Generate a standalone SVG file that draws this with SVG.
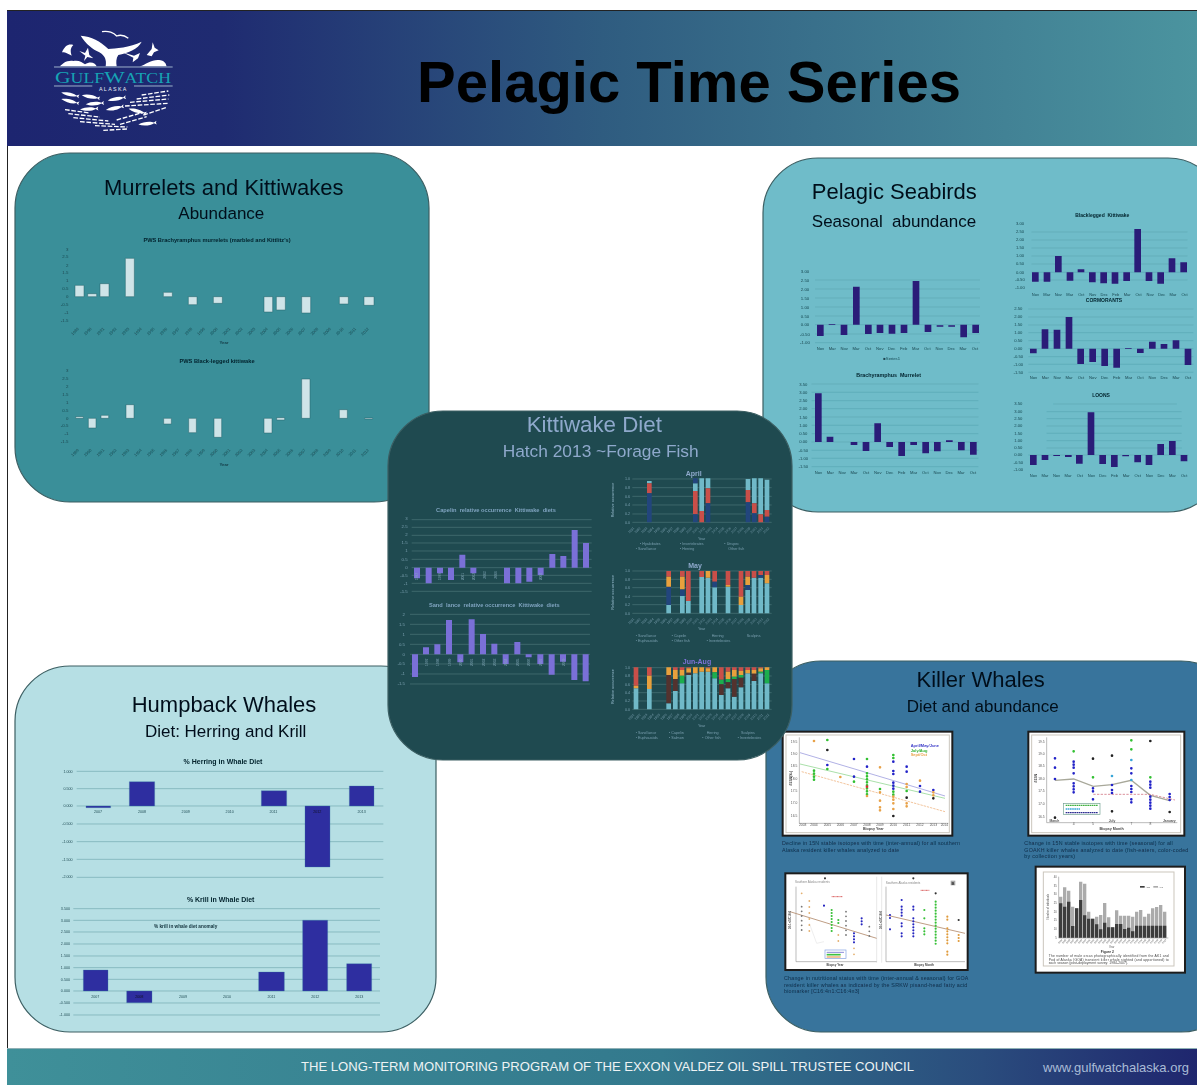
<svg xmlns="http://www.w3.org/2000/svg" xmlns:xlink="http://www.w3.org/1999/xlink" width="1197" height="1085" viewBox="0 0 1197 1085">
<style>
text{font-family:"Liberation Sans",Arial,sans-serif}
.m{text-anchor:middle}
.e{text-anchor:end}
.b{font-weight:bold}
.h{font-size:66px;fill:#04101a}
.h2{font-size:51px;fill:#04101a}
.panel{stroke:#3c5f63;stroke-width:1.2}
.sm{font-size:13px;fill:#14343c;fill-opacity:.8}
.sm2{font-size:13px;fill:#10303a;fill-opacity:.85}
.tt{font-size:17px;font-weight:bold;fill:#07222c}
.grid{fill:none;stroke:#2f7f88;stroke-opacity:.4;stroke-width:1.6}
.gridl{fill:none;stroke:#4a8a90;stroke-opacity:.8;stroke-width:1.6}
.gridk{fill:none;stroke:#6f9a98;stroke-opacity:.7;stroke-width:1.6}
.navy{fill:#2c1a78}
.blue{fill:#2d2da0;stroke:#3a7fa8;stroke-width:1}
.pale{fill:#cfe4e8;stroke:#245f68;stroke-width:1.5}
.viol{fill:#7a70d8}
.ks{font-size:13px;fill:#89aebf;fill-opacity:.85}
.kt{font-size:17px;font-weight:bold;fill:#7fa3bf}
.fw{fill:#fff;stroke:#1c1c1c;stroke-width:6}
.in{fill:#fff;stroke:#cbc6bd;stroke-width:3}
.dot{fill:none;stroke-linecap:round;stroke-width:8;stroke-dasharray:.01 9}
.cap{font-size:16px;fill:#0f2c48}
.tn{font-size:10px;fill:#555}
.ax{fill:none;stroke:#777;stroke-width:1.5}
.fx{font-size:11px;font-weight:bold;fill:#444}
</style>
<defs>
<linearGradient id="hd" x1="0" x2="1" y1="0" y2="0"><stop offset="0" stop-color="#1d2570"/><stop offset=".18" stop-color="#1f2b71"/><stop offset=".5" stop-color="#2f5c80"/><stop offset="1" stop-color="#4b949f"/></linearGradient>
<linearGradient id="ft" x1="0" x2="1" y1="0" y2="0"><stop offset="0" stop-color="#3f9099"/><stop offset=".55" stop-color="#33798d"/><stop offset=".82" stop-color="#2a4c7d"/><stop offset="1" stop-color="#1f266e"/></linearGradient>
<filter id="soft" x="-5%" y="-5%" width="110%" height="110%"><feGaussianBlur stdDeviation="1.3"/></filter>
<path id="fish" d="M-25 0C-10-7 12-7 22-1L30-6 28 0 30 6 22 1C12 7-10 7-25 0z" fill="#fff"/>
<g id="myr" class="sm" style="font-size:12px">
<text class="m" transform="translate(228 0)rotate(-45)">1989</text><text class="m" transform="translate(266 0)rotate(-45)">1990</text><text class="m" transform="translate(304 0)rotate(-45)">1991</text><text class="m" transform="translate(341 0)rotate(-45)">1992</text><text class="m" transform="translate(379 0)rotate(-45)">1993</text><text class="m" transform="translate(417 0)rotate(-45)">1994</text><text class="m" transform="translate(455 0)rotate(-45)">1995</text><text class="m" transform="translate(493 0)rotate(-45)">1996</text><text class="m" transform="translate(530 0)rotate(-45)">1997</text><text class="m" transform="translate(568 0)rotate(-45)">1998</text><text class="m" transform="translate(606 0)rotate(-45)">1999</text><text class="m" transform="translate(644 0)rotate(-45)">2000</text><text class="m" transform="translate(682 0)rotate(-45)">2001</text><text class="m" transform="translate(719 0)rotate(-45)">2002</text><text class="m" transform="translate(757 0)rotate(-45)">2003</text><text class="m" transform="translate(795 0)rotate(-45)">2004</text><text class="m" transform="translate(833 0)rotate(-45)">2005</text><text class="m" transform="translate(871 0)rotate(-45)">2006</text><text class="m" transform="translate(908 0)rotate(-45)">2007</text><text class="m" transform="translate(946 0)rotate(-45)">2008</text><text class="m" transform="translate(984 0)rotate(-45)">2009</text><text class="m" transform="translate(1022 0)rotate(-45)">2010</text><text class="m" transform="translate(1060 0)rotate(-45)">2011</text><text class="m" transform="translate(1098 0)rotate(-45)">2012</text>
</g>
<g id="mon" class="sm2" style="font-size:12.5px">
<text class="m" x="0">Nov</text><text class="m" x="35.7">Mar</text><text class="m" x="71.4">Nov</text><text class="m" x="107">Mar</text><text class="m" x="143">Oct</text><text class="m" x="178.5">Nov</text><text class="m" x="214">Dec</text><text class="m" x="250">Feb</text><text class="m" x="285.6">Mar</text><text class="m" x="321">Oct</text><text class="m" x="357">Nov</text><text class="m" x="393">Dec</text><text class="m" x="428">Mar</text><text class="m" x="464">Oct</text>
</g>
<g id="syr" style="font-size:10px;fill:#89aebf;fill-opacity:.8">
<text class="m" transform="translate(741 0)rotate(-45)">1991</text><text class="m" transform="translate(760 0)rotate(-45)">1992</text><text class="m" transform="translate(780 0)rotate(-45)">1993</text><text class="m" transform="translate(799 0)rotate(-45)">1994</text><text class="m" transform="translate(818 0)rotate(-45)">1995</text><text class="m" transform="translate(838 0)rotate(-45)">1996</text><text class="m" transform="translate(857 0)rotate(-45)">1997</text><text class="m" transform="translate(876 0)rotate(-45)">1998</text><text class="m" transform="translate(895 0)rotate(-45)">1999</text><text class="m" transform="translate(915 0)rotate(-45)">2000</text><text class="m" transform="translate(934 0)rotate(-45)">2001</text><text class="m" transform="translate(953 0)rotate(-45)">2002</text><text class="m" transform="translate(973 0)rotate(-45)">2003</text><text class="m" transform="translate(992 0)rotate(-45)">2004</text><text class="m" transform="translate(1011 0)rotate(-45)">2005</text><text class="m" transform="translate(1031 0)rotate(-45)">2006</text><text class="m" transform="translate(1050 0)rotate(-45)">2007</text><text class="m" transform="translate(1069 0)rotate(-45)">2008</text><text class="m" transform="translate(1089 0)rotate(-45)">2009</text><text class="m" transform="translate(1108 0)rotate(-45)">2010</text><text class="m" transform="translate(1127 0)rotate(-45)">2011</text><text class="m" transform="translate(1146 0)rotate(-45)">2012</text>
</g>
</defs>

<rect width="1197" height="1085" fill="#fff"/>
<path d="M7.5 10V1048" stroke="#222" stroke-width="1" fill="none"/>

<g id="header">
<rect x="7" y="10" width="1190" height="136" fill="url(#hd)"/>
<path d="M7 10.500H1197" stroke="#222" stroke-width="1"/>
<text class="m b" x="689" y="102" font-size="58" fill="#000">Pelagic Time Series</text>
</g>

<g id="logo" transform="translate(40 25)scale(.33333)">
<path fill="#fff" d="M122 32C155 34 180 48 205 72 225 70 270 68 305 50 295 72 262 84 235 90 228 100 228 112 230 124H197C200 105 195 92 178 82 158 72 138 58 122 32z"/>
<path fill="#fff" d="M60 124C68 116 80 105 100 108 115 104 128 112 135 118 150 108 165 112 170 124zM300 124C318 118 340 100 362 106 378 110 378 120 380 124z"/>
<path fill="#fff" d="M66 82C75 62 85 56 100 60 92 68 90 76 95 92 85 88 80 82 66 82zM118 78 135 84 144 68 148 90 160 100 142 96 132 108 136 92z"/>
<path fill="#fff" d="M248 82 282 92 300 84 294 100 278 112 280 98zM320 90 335 72 338 52 344 68 356 76 342 82 335 94z"/>
<path fill="none" stroke="#fff" stroke-width="4" d="M186 20C205 16 222 24 230 33 243 28 255 32 265 40"/>
<path stroke="#b8cfe0" stroke-width="2.500" fill="none" d="M42 126H398M42 183H157M282 183H398"/>
<text class="m" x="219" y="175" font-size="50" fill="#16a3b4" style="font-family:'Liberation Serif',serif" textLength="348" lengthAdjust="spacingAndGlyphs">G<tspan font-size="41">ULF</tspan>W<tspan font-size="41">ATCH</tspan></text>
<text class="m" x="220" y="197" font-size="16" fill="#e8eef4" letter-spacing="4">ALASKA</text>
<use xlink:href="#fish" href="#fish" transform="translate(88 208)rotate(12)"/>
<use xlink:href="#fish" href="#fish" transform="translate(88 228)rotate(14)"/>
<use xlink:href="#fish" href="#fish" transform="translate(150 215)rotate(10)"/>
<use xlink:href="#fish" href="#fish" transform="translate(162 236)rotate(-4)"/>
<use xlink:href="#fish" href="#fish" transform="translate(228 222)rotate(-10)"/>
<use xlink:href="#fish" href="#fish" transform="translate(145 252)rotate(-3)"/>
<use xlink:href="#fish" href="#fish" transform="translate(222 250)rotate(-12)"/>
<use xlink:href="#fish" href="#fish" transform="translate(320 296)rotate(-6)"/>
<use xlink:href="#fish" href="#fish" transform="translate(290 258)rotate(15)"/>
<path stroke="#fff" stroke-width="4" fill="none" stroke-dasharray="14 5" d="M305 210 385 198M290 222 388 210M270 232 385 222M255 243 385 235M310 270 378 248M75 254 150 264M85 266 180 276M100 278 205 288M120 290 225 298M165 302 262 306M190 316 262 312M230 285 310 262M240 298 320 275"/>
</g>

<g id="murrelets">
<rect class="panel" x="15" y="153" width="414" height="349" rx="55" fill="#3a8f99"/>
<g transform="scale(.33333)" filter="url(#soft)">
<text class="m h" x="671" y="585">Murrelets and Kittiwakes</text>
<text class="m h2" x="664" y="657">Abundance</text>
<text class="m tt" x="651" y="725">PWS Brachyramphus murrelets (marbled and Kittlitz's)</text>
<g class="sm"><text class="e" x="205" y="752">3</text><text class="e" x="205" y="775">2.5</text><text class="e" x="205" y="800">2</text><text class="e" x="205" y="823">1.5</text><text class="e" x="205" y="847">1</text><text class="e" x="205" y="871">0.5</text><text class="e" x="205" y="895">0</text><text class="e" x="205" y="919">-0.5</text><text class="e" x="205" y="943">-1</text><text class="e" x="205" y="966">-1.5</text></g>
<path class="pale" d="M225 856h27V890h-27zM263 881h27V890h-27zM300 851h27V890h-27zM376 775h27V890h-27zM490 877h27V890h-27zM565 890h26V914h-26zM640 890h27V910h-27zM792 890h26V936h-26zM829 890h27V930h-27zM905 890h27V939h-27zM1018 890h27V912h-27zM1092 890h30V916h-30z"/>
<use xlink:href="#myr" href="#myr" y="997"/>
<text class="m b sm2" x="672" y="1033" style="font-size:13px">Year</text>
<text class="m tt" x="651" y="1089">PWS Black-legged kittiwake</text>
<g class="sm"><text class="e" x="205" y="1117">3</text><text class="e" x="205" y="1141">2.5</text><text class="e" x="205" y="1165">2</text><text class="e" x="205" y="1188">1.5</text><text class="e" x="205" y="1212">1</text><text class="e" x="205" y="1236">0.5</text><text class="e" x="205" y="1260">0</text><text class="e" x="205" y="1282">-0.5</text><text class="e" x="205" y="1306">-1</text><text class="e" x="205" y="1329">-1.5</text></g>
<path class="pale" d="M227 1250h23V1255h-23zM265 1255h23V1284h-23zM303 1246h23V1255h-23zM378 1214h24V1255h-24zM491 1255h23V1272h-23zM566 1255h23V1298h-23zM642 1255h23V1312h-23zM792 1255h24V1299h-24zM830 1253h24V1260h-24zM905 1137h25V1255h-25zM1018 1229h24V1255h-24zM1094 1254h24V1257h-24z"/>
<use xlink:href="#myr" href="#myr" y="1361"/>
<text class="m b sm2" x="672" y="1397" style="font-size:13px">Year</text>
</g>
</g>

<g id="seabirds">
<rect class="panel" x="763" y="158" width="460" height="354" rx="55" fill="#6fbcc9"/>
<g transform="translate(760 150)scale(.33333)" filter="url(#soft)">
<text class="m h" x="403" y="148">Pelagic Seabirds</text>
<text class="m h2" x="402" y="231" xml:space="preserve">Seasonal  abundance</text>
<g class="sm2" style="font-size:13px"><text class="m" x="135" y="368">3.00</text><text class="m" x="135" y="395">2.50</text><text class="m" x="135" y="422">2.00</text><text class="m" x="135" y="449">1.50</text><text class="m" x="135" y="476">1.00</text><text class="m" x="135" y="503">0.50</text><text class="m" x="135" y="529">0.00</text><text class="m" x="135" y="557">-0.50</text><text class="m" x="135" y="583">-1.00</text></g>
<path class="grid" d="M165 390H660M165 417H660M165 444H660M165 471H660M165 498H660M165 524H660M165 552H660M165 578H660"/>
<path class="navy" d="M171 524h20V558h-20zM206 523h20V525h-20zM242 524h20V555h-20zM279 410h20V524h-20zM315 524h20V552h-20zM350 524h20V549h-20zM386 524h20V551h-20zM422 524h20V549h-20zM458 393h20V524h-20zM494 524h20V546h-20zM530 526h20V530h-20zM565 526h20V530h-20zM601 524h20V562h-20zM637 524h20V549h-20z"/>
<use xlink:href="#mon" href="#mon" transform="translate(181 601)"/>
<text class="m sm2" x="395" y="630" style="font-size:12.500px">■Series1</text>

<text class="m tt" x="386" y="682" style="font-size:16px" xml:space="preserve">Brachyramphus  Murrelet</text>
<g class="sm2" style="font-size:12.500px"><text class="m" x="130" y="707">3.50</text><text class="m" x="130" y="731">3.00</text><text class="m" x="130" y="756">2.50</text><text class="m" x="130" y="781">2.00</text><text class="m" x="130" y="806">1.50</text><text class="m" x="130" y="831">1.00</text><text class="m" x="130" y="855">0.50</text><text class="m" x="130" y="880">0.00</text><text class="m" x="130" y="905">-0.50</text><text class="m" x="130" y="930">-1.00</text><text class="m" x="130" y="954">-1.50</text></g>
<path class="grid" d="M155 702H655M155 727H655M155 752H655M155 776H655M155 801H655M155 826H655M155 851H655M155 876H655M155 901H655M155 925H655M155 950H655"/>
<path class="navy" d="M165 730h20V876h-20zM200 860h20V876h-20zM272 876h20V885h-20zM308 876h20V903h-20zM343 820h20V876h-20zM379 876h20V891h-20zM415 876h20V918h-20zM451 876h20V885h-20zM487 876h20V910h-20zM522 876h20V904h-20zM558 871h20V876h-20zM594 876h20V901h-20zM630 876h20V914h-20z"/>
<use xlink:href="#mon" href="#mon" transform="translate(175 973)"/>

<text class="m tt" x="1027" y="202" style="font-size:15px" xml:space="preserve">Blacklegged  Kittiwake</text>
<g class="sm2" style="font-size:12.500px"><text class="m" x="780" y="226">3.00</text><text class="m" x="780" y="250">2.50</text><text class="m" x="780" y="274">2.00</text><text class="m" x="780" y="298">1.50</text><text class="m" x="780" y="322">1.00</text><text class="m" x="780" y="346">0.50</text><text class="m" x="780" y="371">0.00</text><text class="m" x="780" y="394">-0.50</text><text class="m" x="780" y="418">-1.00</text></g>
<path class="grid" d="M815 246H1282M815 270H1282M815 294H1282M815 318H1282M815 342H1282M815 367H1282M815 390H1282"/>
<path class="navy" d="M816 367h20V395h-20zM851 367h20V395h-20zM885 318h20V367h-20zM920 367h20V392h-20zM953 358h20V367h-20zM987 367h20V397h-20zM1021 367h20V400h-20zM1055 367h20V401h-20zM1090 367h20V393h-20zM1123 237h20V367h-20zM1157 367h20V393h-20zM1192 367h20V401h-20zM1226 325h20V367h-20zM1261 337h20V367h-20z"/>
<use xlink:href="#mon" href="#mon" transform="translate(826 437)scale(.965 1)"/>

<text class="m tt" x="1032" y="456" style="font-size:15px">CORMORANTS</text>
<g class="sm2" style="font-size:12.500px"><text class="m" x="775" y="481">2.50</text><text class="m" x="775" y="505">2.00</text><text class="m" x="775" y="529">1.50</text><text class="m" x="775" y="552">1.00</text><text class="m" x="775" y="576">0.50</text><text class="m" x="775" y="600">0.00</text><text class="m" x="775" y="624">-0.50</text><text class="m" x="775" y="647">-1.00</text><text class="m" x="775" y="671">-1.50</text></g>
<path class="grid" d="M805 477H1300M805 501H1300M805 525H1300M805 548H1300M805 572H1300M805 596H1300M805 620H1300M805 643H1300M805 667H1300"/>
<path class="navy" d="M810 596h20V610h-20zM845 538h20V596h-20zM881 539h20V596h-20zM917 501h20V596h-20zM952 596h20V642h-20zM988 596h20V636h-20zM1024 596h20V648h-20zM1060 596h20V653h-20zM1095 595h20V597h-20zM1131 596h20V609h-20zM1167 575h20V596h-20zM1202 582h20V596h-20zM1238 571h20V596h-20zM1274 596h20V645h-20z"/>
<use xlink:href="#mon" href="#mon" transform="translate(820 686)"/>

<text class="m tt" x="1023" y="741" style="font-size:15px">LOONS</text>
<g class="sm2" style="font-size:12.500px"><text class="m" x="775" y="766">3.50</text><text class="m" x="775" y="789">3.00</text><text class="m" x="775" y="810">2.50</text><text class="m" x="775" y="832">2.00</text><text class="m" x="775" y="854">1.50</text><text class="m" x="775" y="876">1.00</text><text class="m" x="775" y="897">0.50</text><text class="m" x="775" y="919">0.00</text><text class="m" x="775" y="941">-0.50</text><text class="m" x="775" y="962">-1.00</text></g>
<path class="grid" d="M880 762H1250M860 785H1265M860 806H1265M860 828H1265M860 850H1265M860 872H1265M860 894H1265M805 915H1285"/>
<path class="navy" d="M810 915h20V945h-20zM845 915h20V930h-20zM880 915h20V918h-20zM915 915h20V921h-20zM948 915h20V941h-20zM983 787h20V915h-20zM1018 915h20V942h-20zM1053 915h20V951h-20zM1087 915h20V919h-20zM1123 915h20V937h-20zM1157 915h20V945h-20zM1192 882h20V915h-20zM1227 873h20V915h-20zM1262 915h20V934h-20z"/>
<use xlink:href="#mon" href="#mon" transform="translate(820 981)scale(.975 1)"/>
</g>
</g>

<g id="humpback">
<rect class="panel" x="15" y="666" width="421" height="366" rx="55" fill="#b6dfe4"/>
<g transform="translate(0 660)scale(.33333)" filter="url(#soft)">
<text class="m h" x="672" y="157">Humpback Whales</text>
<text class="m h2" x="677" y="232">Diet: Herring and Krill</text>
<text class="m tt" x="669" y="312" style="font-size:21px">% Herring in Whale Diet</text>
<g class="sm2" style="font-size:11px"><text class="e" x="218" y="338">1.000</text><text class="e" x="218" y="390">0.500</text><text class="e" x="218" y="442">0.000</text><text class="e" x="218" y="496">-0.500</text><text class="e" x="218" y="549">-1.000</text><text class="e" x="218" y="602">-1.500</text><text class="e" x="218" y="654">-2.000</text></g>
<path class="gridl" d="M230 334H1150M230 386H1150M230 438H1150M230 492H1150M230 545H1150M230 598H1150M230 652H1150"/>
<path class="blue" d="M258 438h74V443h-74zM388 365h76V438h-76zM784 392h76V438h-76zM915 438h75V621h-75zM1048 378h74V438h-74z"/>
<g class="sm2" style="font-size:11px"><text class="m" x="294" y="458">2007</text><text class="m" x="426" y="458">2008</text><text class="m" x="557" y="458">2009</text><text class="m" x="689" y="458">2010</text><text class="m" x="820" y="458">2011</text><text class="m" x="952" y="458" fill="#111">2012</text><text class="m" x="1085" y="458">2013</text></g>
<text class="m tt" x="662" y="726" style="font-size:21px">% Krill in Whale Diet</text>
<g class="sm2" style="font-size:11px"><text class="e" x="210" y="750">3.500</text><text class="e" x="210" y="785">3.000</text><text class="e" x="210" y="820">2.500</text><text class="e" x="210" y="856">2.000</text><text class="e" x="210" y="892">1.500</text><text class="e" x="210" y="927">1.000</text><text class="e" x="210" y="962">0.500</text><text class="e" x="210" y="997">0.000</text><text class="e" x="210" y="1033">-0.500</text><text class="e" x="210" y="1069">-1.000</text></g>
<path class="gridl" d="M220 746H1140M220 781H1140M220 816H1140M220 852H1140M220 888H1140M220 923H1140M220 958H1140M220 993H1140M220 1029H1140M220 1065H1140"/>
<text class="m b" x="557" y="805" font-size="14" fill="#10303a">% krill in whale diet anomaly</text>
<path class="blue" d="M250 930h74V993h-74zM380 993h76V1028h-76zM776 936h77V993h-77zM908 781h75V993h-75zM1040 911h75V993h-75z"/>
<g class="sm2" style="font-size:11px"><text class="m" x="286" y="1013">2007</text><text class="m" x="418" y="1013" fill="#111">2008</text><text class="m" x="549" y="1013">2009</text><text class="m" x="681" y="1013">2010</text><text class="m" x="814" y="1013">2011</text><text class="m" x="946" y="1013">2012</text><text class="m" x="1078" y="1013">2013</text></g>
</g>
</g>

<g id="killer-whales">
<rect class="panel" x="766" y="661" width="470" height="371" rx="55" fill="#38749c"/>
<g transform="translate(770 660)scale(.33333)" filter="url(#soft)">
<text class="m h" x="632" y="82">Killer Whales</text>
<text class="m h2" x="638" y="156">Diet and abundance</text>

<g id="fig-n-year">
<rect class="fw" x="38" y="215" width="509" height="312"/>
<rect class="in" x="48" y="225" width="490" height="293"/>
<path class="ax" d="M88 232V490H535"/>
<g class="tn"><text class="e" x="82" y="248">19.5</text><text class="e" x="82" y="285">19.0</text><text class="e" x="82" y="322">18.5</text><text class="e" x="82" y="359">18.0</text><text class="e" x="82" y="396">17.5</text><text class="e" x="82" y="433">17.0</text><text class="e" x="82" y="470">16.5</text></g>
<g class="tn"><text class="m" x="98" y="498">2003</text><text class="m" x="132" y="498">2004</text><text class="m" x="172" y="498">2005</text><text class="m" x="211" y="498">2006</text><text class="m" x="252" y="498">2007</text><text class="m" x="291" y="498">2008</text><text class="m" x="330" y="498">2009</text><text class="m" x="370" y="498">2010</text><text class="m" x="410" y="498">2011</text><text class="m" x="450" y="498">2012</text><text class="m" x="490" y="498">2013</text><text class="m" x="523" y="498">2014</text></g>
<text class="m fx" x="310" y="511">Biopsy Year</text>
<text class="m fx" transform="translate(66 355)rotate(-90)">δ15N(‰)</text>
<path d="M90 278 525 408" stroke="#8a8ad8" stroke-width="2" fill="none"/>
<path d="M90 312 525 415" stroke="#7ed07e" stroke-width="2" fill="none"/>
<path d="M95 335 525 455" stroke="#eca66a" stroke-width="2" fill="none" stroke-dasharray="7 3"/>
<path class="dot" stroke="#30c030" d="M132 332V364M291 340V405M370 395V408M172 327h.1M172 240h.1M330 387h.1M291 297h.1M252 365h.1M370 285V302M410 393h.1"/>
<path class="dot" stroke="#2424c8" d="M172 315h.1M252 297h.1M252 350h.1M291 320h.1M370 305V312M370 333V347M370 368V392M410 320h.1M410 335h.1M450 378V385M450 395h.1M490 390V397"/>
<path class="dot" stroke="#e8a24a" d="M132 243h.1M211 351h.1M330 322h.1M330 397h.1M330 422h.1M330 442V454M370 410V422M370 430h.1M370 447V454M410 372V386M410 430V446M450 362h.1M490 397V408M291 408h.1"/>
<path class="dot" stroke="#222" d="M172 270V276M370 468h.1M410 413h.1M490 415h.1"/>
<path class="dot" stroke="#d83030" d="M291 380V386"/>
<g font-size="12" font-weight="bold"><text x="422" y="262" fill="#3a3ac8">April/May/June</text><text x="422" y="275" fill="#30b030">July/Aug</text><text x="422" y="289" fill="#e8a24a">Sept/Oct</text></g>
</g>
<g class="cap"><text x="36" y="555" textLength="534">Decline in 15N stable isotopes with time (inter-annual) for all southern</text><text x="36" y="575" textLength="352">Alaska resident killer whales analyzed to date</text></g>

<g id="fig-n-month">
<rect class="fw" x="775" y="215" width="468" height="312"/>
<rect class="in" x="785" y="225" width="447" height="293"/>
<path class="ax" d="M830 232V488H1222"/>
<g class="tn"><text class="e" x="824" y="248">19.5</text><text class="e" x="824" y="285">19.0</text><text class="e" x="824" y="322">18.5</text><text class="e" x="824" y="360">18.0</text><text class="e" x="824" y="397">17.5</text><text class="e" x="824" y="436">17.0</text><text class="e" x="824" y="474">16.5</text></g>
<text class="m fx" transform="translate(800 355)rotate(-90)">δ15N</text>
<g class="tn"><text class="m" x="853" y="486" font-weight="bold">March</text><text class="m" x="911" y="496">4</text><text class="m" x="969" y="496">5</text><text class="m" x="1026" y="486" font-weight="bold">July</text><text class="m" x="1084" y="496">7</text><text class="m" x="1141" y="496">8</text><text class="m" x="1198" y="486" font-weight="bold">January</text></g>
<text class="m fx" x="1025" y="511">Biopsy Month</text>
<path d="M855 361 911 357 970 379 1026 374 1084 361 1141 406 1199 422" fill="none" stroke="#a8a89a" stroke-width="4"/>
<path d="M970 403H1140L1215 420" fill="none" stroke="#c85a6a" stroke-width="2" stroke-dasharray="7 4"/>
<path class="dot" stroke="#2424c8" d="M855 295h.1M855 323h.1M855 357h.1M911 305V325M911 340h.1M911 370V405M969 385V400M969 418h.1M1026 375h.1M1026 390V400M1084 325h.1M1084 340h.1M1084 378V405M1084 418V433M1141 365V390M1141 410V450M1199 402V425"/>
<path class="dot" stroke="#30c030" d="M911 274h.1M969 352h.1M1084 241h.1M1084 268h.1M1141 352h.1"/>
<path class="dot" stroke="#37a6d8" d="M1026 348h.1M1084 300h.1M1084 360h.1"/>
<path class="dot" stroke="#222" d="M855 473h.1M969 296h.1M1026 287h.1M1026 454h.1M1141 243h.1M1199 456h.1"/>
<rect x="880" y="430" width="110" height="34" fill="#fff" stroke="#6f9f8f" stroke-width="2"/>
<path d="M887 436H983" stroke="#40b040" stroke-width="4" stroke-dasharray="5 1.500"/><path d="M887 447H930" stroke="#38a8d8" stroke-width="4" stroke-dasharray="5 1.500"/><path d="M887 458H983" stroke="#2a2a90" stroke-width="4" stroke-dasharray="5 1.500"/>
</g>
<g class="cap"><text x="763" y="556" textLength="445">Change in 15N stable isotopes with time (seasonal) for all</text><text x="763" y="575" textLength="492">GOAKH killer whales analyzed to date (fish-eaters, color-coded</text><text x="763" y="595" textLength="152">by collection years)</text></g>

<g id="fig-fatty-acid">
<rect class="fw" x="46" y="640" width="547" height="290"/>
<path d="M320 650V908M335 650V908" stroke="#ddd" stroke-width="2"/>
<path class="ax" d="M78 680V905H320M348 680V905H585"/>
<text x="75" y="670" font-size="9" fill="#888">Southern Alaska residents</text><text x="347" y="671" font-size="9" fill="#888">Southern Alaska residents</text>
<path d="M60 755 320 835M348 765 585 820" stroke="#b28a6c" stroke-width="2.500" fill="none"/>
<path d="M118 790 140 850 162 845" stroke="#ddd" stroke-width="1.500" fill="none"/>
<path class="dot" style="stroke-width:5.500;stroke-dasharray:.01 14" stroke="#777" d="M95 740V815M228 755V830M298 800V840"/>
<path class="dot" style="stroke-width:5.500;stroke-dasharray:.01 18" stroke="#e4b070" d="M118 723V830M205 825V855M252 865V895M95 700h.1"/>
<path class="dot" style="stroke-width:6.500" stroke="#2828c0" d="M162 737V745M252 820V855M275 775V795M395 720h.1M395 740V775M395 790V805M395 820V830M430 740V750M430 775V835M360 765V775M360 808h.1"/>
<path class="dot" style="stroke-width:6.500" stroke="#38c038" d="M185 750V820M205 780V790M463 750h.1M463 775h.1M463 805V825M497 725V855"/>
<path class="dot" style="stroke-width:6.500" stroke="#e09a3a" d="M532 770V785M532 805V855M532 875V890M566 825V847"/>
<path class="dot" style="stroke-width:6.500" stroke="#333" d="M165 655h.1M430 655h.1M497 700h.1M566 780h.1"/>
<rect x="165" y="870" width="63" height="26" fill="#fff" stroke="#7f9fe0" stroke-width="2"/>
<path d="M170 877H222" stroke="#8a8ad8" stroke-width="3"/><path d="M170 884H212" stroke="#40c040" stroke-width="5"/><path d="M170 891H212" stroke="#eca66a" stroke-width="4"/>
<path d="M185 710H218M452 691H478" stroke="#d85a5a" stroke-width="3" stroke-dasharray="3 1"/>
<rect x="542" y="662" width="14" height="14" fill="#aaa"/><text class="m b" x="549" y="674" font-size="12" fill="#333">B</text>
<text class="m fx" x="195" y="918" style="font-size:9px">Biopsy Year</text><text class="m fx" x="462" y="918" style="font-size:9px">Biopsy Month</text>
<text class="m fx" style="font-size:9px" transform="translate(64 780)rotate(-90)">16:1n7/C16:0</text><text class="m fx" style="font-size:9px" transform="translate(335 780)rotate(-90)">16:1n7/C16:0</text>
</g>
<g class="cap"><text x="42" y="960" textLength="553">Change in nutritional status with time (inter-annual &amp; seasonal) for GOA</text><text x="42" y="980" textLength="550">resident killer whales as indicated by the SRKW pisand-head fatty acid</text><text x="42" y="1000" textLength="226">biomarker [C16:4n1:C16:4n3]</text></g>

<g id="fig-photo-id">
<rect class="fw" x="797" y="620" width="448" height="318"/>
<rect class="in" x="820" y="636" width="392" height="282"/>
<path class="ax" d="M866 650V834H1195"/>
<g class="tn" style="font-size:8px"><text class="e" x="860" y="654">40</text><text class="e" x="860" y="680">35</text><text class="e" x="860" y="706">30</text><text class="e" x="860" y="732">25</text><text class="e" x="860" y="758">20</text><text class="e" x="860" y="784">15</text><text class="e" x="860" y="810">10</text><text class="e" x="860" y="836">5</text></g>
<text class="m tn" style="font-size:8px" transform="translate(838 740)rotate(-90)">Number of individuals</text>
<path fill="#ababab" d="M867 710h10V833h-10zM879 682h10V833h-10zM891 692h10V833h-10zM903 740h10V833h-10zM915 745h10V833h-10zM927 665h10V833h-10zM939 671h10V833h-10zM951 755h10V833h-10zM963 776h10V833h-10zM975 770h10V833h-10zM987 765h10V833h-10zM999 729h10V833h-10zM1011 772h10V833h-10zM1023 802h10V833h-10zM1035 751h10V833h-10zM1047 767h10V833h-10zM1059 767h10V833h-10zM1071 767h10V833h-10zM1083 770h10V833h-10zM1095 755h10V833h-10zM1107 750h10V833h-10zM1119 770h10V833h-10zM1131 761h10V833h-10zM1143 745h10V833h-10zM1155 741h10V833h-10zM1167 735h10V833h-10zM1179 755h10V833h-10z"/>
<path fill="#3c3c3c" d="M867 730h10V833h-10zM879 740h10V833h-10zM891 725h10V833h-10zM903 798h10V833h-10zM915 745h10V833h-10zM927 720h10V833h-10zM939 766h10V833h-10zM951 776h10V833h-10zM963 776h10V833h-10zM975 793h10V833h-10zM987 808h10V833h-10zM999 788h10V833h-10zM1011 802h10V833h-10zM1023 802h10V833h-10zM1035 792h10V833h-10zM1047 792h10V833h-10zM1059 807h10V833h-10zM1071 803h10V833h-10zM1083 814h10V833h-10zM1095 797h10V833h-10zM1107 797h10V833h-10zM1119 797h10V833h-10zM1131 797h10V833h-10zM1143 797h10V833h-10zM1155 797h10V833h-10zM1167 797h10V833h-10zM1179 797h10V833h-10z"/>
<g class="tn" style="font-size:7px"><text class="m" transform="translate(872 846)rotate(-45)">1984</text><text class="m" transform="translate(884 846)rotate(-45)">1985</text><text class="m" transform="translate(896 846)rotate(-45)">1986</text><text class="m" transform="translate(908 846)rotate(-45)">1987</text><text class="m" transform="translate(920 846)rotate(-45)">1988</text><text class="m" transform="translate(932 846)rotate(-45)">1989</text><text class="m" transform="translate(944 846)rotate(-45)">1990</text><text class="m" transform="translate(956 846)rotate(-45)">1991</text><text class="m" transform="translate(968 846)rotate(-45)">1992</text><text class="m" transform="translate(980 846)rotate(-45)">1993</text><text class="m" transform="translate(992 846)rotate(-45)">1994</text><text class="m" transform="translate(1004 846)rotate(-45)">1995</text><text class="m" transform="translate(1016 846)rotate(-45)">1996</text><text class="m" transform="translate(1028 846)rotate(-45)">1997</text><text class="m" transform="translate(1040 846)rotate(-45)">1998</text><text class="m" transform="translate(1052 846)rotate(-45)">1999</text><text class="m" transform="translate(1064 846)rotate(-45)">2000</text><text class="m" transform="translate(1076 846)rotate(-45)">2001</text><text class="m" transform="translate(1088 846)rotate(-45)">2002</text><text class="m" transform="translate(1100 846)rotate(-45)">2003</text><text class="m" transform="translate(1112 846)rotate(-45)">2004</text><text class="m" transform="translate(1124 846)rotate(-45)">2005</text><text class="m" transform="translate(1136 846)rotate(-45)">2006</text><text class="m" transform="translate(1148 846)rotate(-45)">2007</text><text class="m" transform="translate(1160 846)rotate(-45)">2008</text><text class="m" transform="translate(1172 846)rotate(-45)">2009</text><text class="m" transform="translate(1184 846)rotate(-45)">2010</text></g>
<text class="m tn" style="font-size:8px" x="1025" y="863">Year</text>
<rect x="1110" y="678" width="14" height="5" fill="#3c3c3c"/><text x="1127" y="684" font-size="7" fill="#555">AB1</text><rect x="1150" y="678" width="14" height="5" fill="#ababab"/><text x="1166" y="684" font-size="7" fill="#555">AK1</text>
<text class="m b" x="1012" y="880" font-size="10" fill="#333">Figure 2</text>
<g font-size="10" fill="#444"><text x="836" y="892" textLength="360">The number of male orcas photographically identified from the AK1 and</text><text x="836" y="902" textLength="360">Pod of Alaska (GOA) transient killer whale sighted (and apportioned) to</text><text x="836" y="912" textLength="238">each season (post-deployment survey: 1984-2007).</text></g>
</g>
</g>
</g>

<g id="kittiwake-diet">
<rect class="panel" x="388" y="411" width="404" height="349" rx="55" fill="#1f4a50" stroke="#2b4e52"/>
<g transform="translate(385 405)scale(.33333)" filter="url(#soft)">
<text class="m" x="628" y="80" font-size="67" fill="#8fa9cc">Kittiwake Diet</text>
<text class="m" x="647" y="155" font-size="52" fill="#8fa9cc">Hatch 2013 ~Forage Fish</text>

<text class="m kt" x="333" y="322" xml:space="preserve">Capelin  relative occurrence  Kittiwake  diets</text>
<g class="ks"><text class="e" x="68" y="345">3</text><text class="e" x="68" y="369">2.5</text><text class="e" x="68" y="394">2</text><text class="e" x="68" y="418">1.5</text><text class="e" x="68" y="442">1</text><text class="e" x="68" y="467">0.5</text><text class="e" x="68" y="492">0</text><text class="e" x="68" y="515">-0.5</text><text class="e" x="68" y="539">-1</text><text class="e" x="68" y="563">-1.5</text></g>
<path class="gridk" d="M80 344H620M80 367H620M80 391H620M80 414H620M80 438H620M80 463H620M80 488H620M80 511H620M80 535H620M80 559H620"/>
<path class="viol" d="M87 488h18V520h-18zM122 488h18V535h-18zM156 488h18V505h-18zM189 488h18V525h-18zM223 449h18V488h-18zM256 488h18V505h-18zM357 488h18V535h-18zM391 488h18V535h-18zM424 488h18V530h-18zM458 488h18V510h-18zM493 447h18V488h-18zM526 453h18V488h-18zM560 375h18V488h-18zM594 414h18V488h-18z"/>
<g class="ks" style="font-size:10px"><text class="m" transform="translate(100 515)rotate(-90)">1997</text><text class="m" transform="translate(169 515)rotate(-90)">1999</text><text class="m" transform="translate(236 515)rotate(-90)">2001</text><text class="m" transform="translate(269 515)rotate(-90)">2002</text><text class="m" transform="translate(303 510)rotate(-90)">2003</text><text class="m" transform="translate(337 510)rotate(-90)">2004</text><text class="m" transform="translate(471 515)rotate(-90)">2008</text></g>

<text class="m kt" x="328" y="607" xml:space="preserve">Sand  lance  relative occurrence  Kittiwake  diets</text>
<g class="ks"><text class="e" x="60" y="632">2</text><text class="e" x="60" y="662">1.5</text><text class="e" x="60" y="692">1</text><text class="e" x="60" y="722">0.5</text><text class="e" x="60" y="752">0</text><text class="e" x="60" y="781">-0.5</text><text class="e" x="60" y="811">-1</text><text class="e" x="60" y="841">-1.5</text></g>
<path class="gridk" d="M75 628H615M75 658H615M75 688H615M75 718H615M75 748H615M75 777H615M75 807H615M75 837H615"/>
<path class="viol" d="M81 748h18V816h-18zM114 727h18V748h-18zM148 718h18V748h-18zM183 645h18V748h-18zM217 748h18V772h-18zM251 643h18V748h-18zM285 687h18V748h-18zM319 716h18V748h-18zM353 748h18V777h-18zM388 711h18V748h-18zM422 748h18V757h-18zM457 748h18V777h-18zM491 748h18V809h-18zM525 748h18V770h-18zM559 748h18V825h-18zM593 748h18V829h-18z"/>
<g class="ks" style="font-size:10px"><text class="m" transform="translate(128 772)rotate(-90)">1997</text><text class="m" transform="translate(162 772)rotate(-90)">1998</text><text class="m" transform="translate(197 772)rotate(-90)">1999</text><text class="m" transform="translate(231 772)rotate(-90)">2000</text><text class="m" transform="translate(265 772)rotate(-90)">2001</text><text class="m" transform="translate(299 772)rotate(-90)">2002</text><text class="m" transform="translate(333 772)rotate(-90)">2003</text><text class="m" transform="translate(367 772)rotate(-90)">2004</text><text class="m" transform="translate(402 772)rotate(-90)">2005</text><text class="m" transform="translate(436 772)rotate(-90)">2006</text><text class="m" transform="translate(471 772)rotate(-90)">2007</text><text class="m" transform="translate(539 772)rotate(-90)">2009</text></g>

<path class="gridk" d="M742 222H1160M742 248H1160M742 274H1160M742 300H1160M742 327H1160M742 352H1160M742 498H1160M742 523H1160M742 548H1160M742 574H1160M742 599H1160M742 625H1160M742 788H1160M742 813H1160M742 838H1160M742 863H1160M742 888H1160M742 913H1160"/>
<path fill="#6fb9c8" d="M786 228h14V235h-14zM924 235h14V258h-14zM943 220h14V318h-14zM962 220h14V250h-14zM1082 222h14V255h-14zM1101 220h14V295h-14zM1120 220h14V328h-14zM1139 224h14V315h-14zM844 600h14V625h-14zM885 573h14V625h-14zM903 588h14V625h-14zM943 516h14V625h-14zM962 518h14V625h-14zM982 547h14V625h-14zM1022 545h14V625h-14zM1061 600h14V625h-14zM1081 555h14V625h-14zM1100 518h14V625h-14zM1120 518h14V625h-14zM1139 535h14V625h-14zM746 850h14V913h-14zM786 852h14V913h-14zM844 895h14V913h-14zM864 858h14V913h-14zM884 835h14V913h-14zM904 810h14V913h-14zM924 805h14V913h-14zM943 800h14V913h-14zM962 800h14V913h-14zM982 820h14V913h-14zM1002 870h14V913h-14zM1022 850h14V913h-14zM1041 875h14V913h-14zM1061 847h14V913h-14zM1081 805h14V913h-14zM1100 828h14V913h-14zM1120 805h14V913h-14zM1139 835h14V913h-14z"/>
<path fill="#c9504a" d="M786 235h14V265h-14zM924 258h14V328h-14zM943 318h14V352h-14zM962 250h14V295h-14zM1082 255h14V292h-14zM1101 295h14V325h-14zM1120 328h14V352h-14zM1139 315h14V335h-14zM844 498h14V515h-14zM885 498h14V515h-14zM903 498h14V588h-14zM943 498h14V516h-14zM982 498h14V530h-14zM1022 498h14V540h-14zM1061 498h14V575h-14zM1081 498h14V515h-14zM1100 498h14V518h-14zM1120 498h14V510h-14zM1139 498h14V510h-14zM746 787h14V842h-14zM786 787h14V812h-14zM864 787h14V795h-14zM884 787h14V795h-14zM904 787h14V790h-14zM962 787h14V790h-14zM1002 787h14V824h-14zM1022 787h14V800h-14zM1041 787h14V795h-14zM1061 787h14V798h-14zM1081 787h14V795h-14zM1100 787h14V795h-14zM1120 787h14V790h-14z"/>
<path fill="#23457d" d="M786 265h14V352h-14zM924 328h14V352h-14zM924 220h14V235h-14zM962 295h14V352h-14zM1082 292h14V352h-14zM1101 325h14V352h-14zM1139 335h14V352h-14zM844 545h14V600h-14zM885 553h14V573h-14zM982 530h14V547h-14zM1081 540h14V555h-14zM1120 510h14V518h-14z"/>
<path fill="#e8a03c" d="M844 515h14V545h-14zM885 515h14V553h-14zM962 498h14V518h-14zM1022 540h14V545h-14zM1061 575h14V600h-14zM1081 515h14V540h-14zM1139 510h14V535h-14zM746 842h14V850h-14zM786 812h14V852h-14zM844 787h14V810h-14zM864 795h14V822h-14zM884 795h14V812h-14zM904 790h14V803h-14zM924 787h14V805h-14zM943 787h14V800h-14zM962 790h14V800h-14zM982 787h14V802h-14zM1022 800h14V822h-14zM1041 795h14V815h-14zM1061 798h14V810h-14zM1081 795h14V805h-14zM1100 795h14V806h-14zM1120 790h14V800h-14zM1139 787h14V795h-14z"/>
<path fill="#1fae4e" d="M884 812h14V835h-14zM982 802h14V820h-14zM1002 824h14V838h-14zM1022 822h14V832h-14zM1041 815h14V822h-14zM1061 810h14V818h-14zM1120 800h14V805h-14zM1139 795h14V835h-14z"/>
<path fill="#53302f" d="M844 810h14V895h-14zM864 822h14V858h-14zM904 803h14V810h-14zM1002 838h14V870h-14zM1022 832h14V850h-14zM1041 822h14V875h-14zM1061 818h14V847h-14zM1100 806h14V828h-14z"/>

<text class="m" x="926" y="212" font-size="21" font-weight="bold" fill="#8fa9cc">April</text>
<text class="m" x="930" y="488" font-size="21" font-weight="bold" fill="#8fa9cc">May</text>
<text class="m" x="936" y="777" font-size="21" font-weight="bold" fill="#7f73d8">Jun-Aug</text>
<g class="ks" style="font-size:11px;font-weight:bold"><text class="m" transform="translate(687 285)rotate(-90)">Relative occurrence</text><text class="m" transform="translate(687 562)rotate(-90)">Relative occurrence</text><text class="m" transform="translate(687 845)rotate(-90)">Relative occurrence</text></g>
<g class="ks" style="font-size:11px"><text class="e" x="735" y="226">1.0</text><text class="e" x="735" y="252">0.8</text><text class="e" x="735" y="278">0.6</text><text class="e" x="735" y="304">0.4</text><text class="e" x="735" y="331">0.2</text><text class="e" x="735" y="356">0.0</text><text class="e" x="735" y="502">1.0</text><text class="e" x="735" y="527">0.8</text><text class="e" x="735" y="552">0.6</text><text class="e" x="735" y="578">0.4</text><text class="e" x="735" y="603">0.2</text><text class="e" x="735" y="629">0.0</text><text class="e" x="735" y="792">1.0</text><text class="e" x="735" y="817">0.8</text><text class="e" x="735" y="842">0.6</text><text class="e" x="735" y="867">0.4</text><text class="e" x="735" y="892">0.2</text><text class="e" x="735" y="917">0.0</text></g>
<use xlink:href="#syr" href="#syr" y="378"/><use xlink:href="#syr" href="#syr" y="651"/><use xlink:href="#syr" href="#syr" y="938"/>
<g class="ks" style="font-size:11px">
<text class="m" x="950" y="406">Year</text><text class="m" x="950" y="676">Year</text><text class="m" x="950" y="966">Year</text>
<text x="765" y="420">▪ Hyalobates</text><text x="885" y="420">▪ Invertebrates</text><text x="1018" y="420">▪ Unspec</text>
<text x="752" y="436">▪ Sand lance</text><text x="885" y="436">▪ Herring</text><text x="1030" y="436">Other fish</text>
<text x="752" y="696">▪ Sand lance</text><text x="860" y="696">▪ Capelin</text><text x="980" y="696">Herring</text><text x="1085" y="696">Sculpins</text>
<text x="752" y="712">▪ Euphausiids</text><text x="860" y="712">▪ Other fish</text><text x="965" y="712">▪ Invertebrates</text>
<text x="752" y="986">▪ Sand lance</text><text x="852" y="986">▪ Capelin</text><text x="965" y="986">Herring</text><text x="1068" y="986">Sculpins</text>
<text x="752" y="1002">▪ Euphausiids</text><text x="852" y="1002">▪ Salmon</text><text x="952" y="1002">▪ Other fish</text><text x="1058" y="1002">▪ Invertebrates</text>
</g>
</g>
</g>

<g id="footer">
<rect x="7" y="1048" width="1190" height="37" fill="url(#ft)"/>
<path d="M7 1048.500H1197" stroke="#8fb0b5" stroke-width="1"/>
<text x="301" y="1071" font-size="13.500" fill="#eef3f4" textLength="613" lengthAdjust="spacingAndGlyphs">THE LONG-TERM MONITORING PROGRAM OF THE EXXON VALDEZ OIL SPILL TRUSTEE COUNCIL</text>
<text x="1043" y="1072" font-size="13.500" fill="#a9bcd6" textLength="146" lengthAdjust="spacingAndGlyphs">www.gulfwatchalaska.org</text>
</g>
</svg>
